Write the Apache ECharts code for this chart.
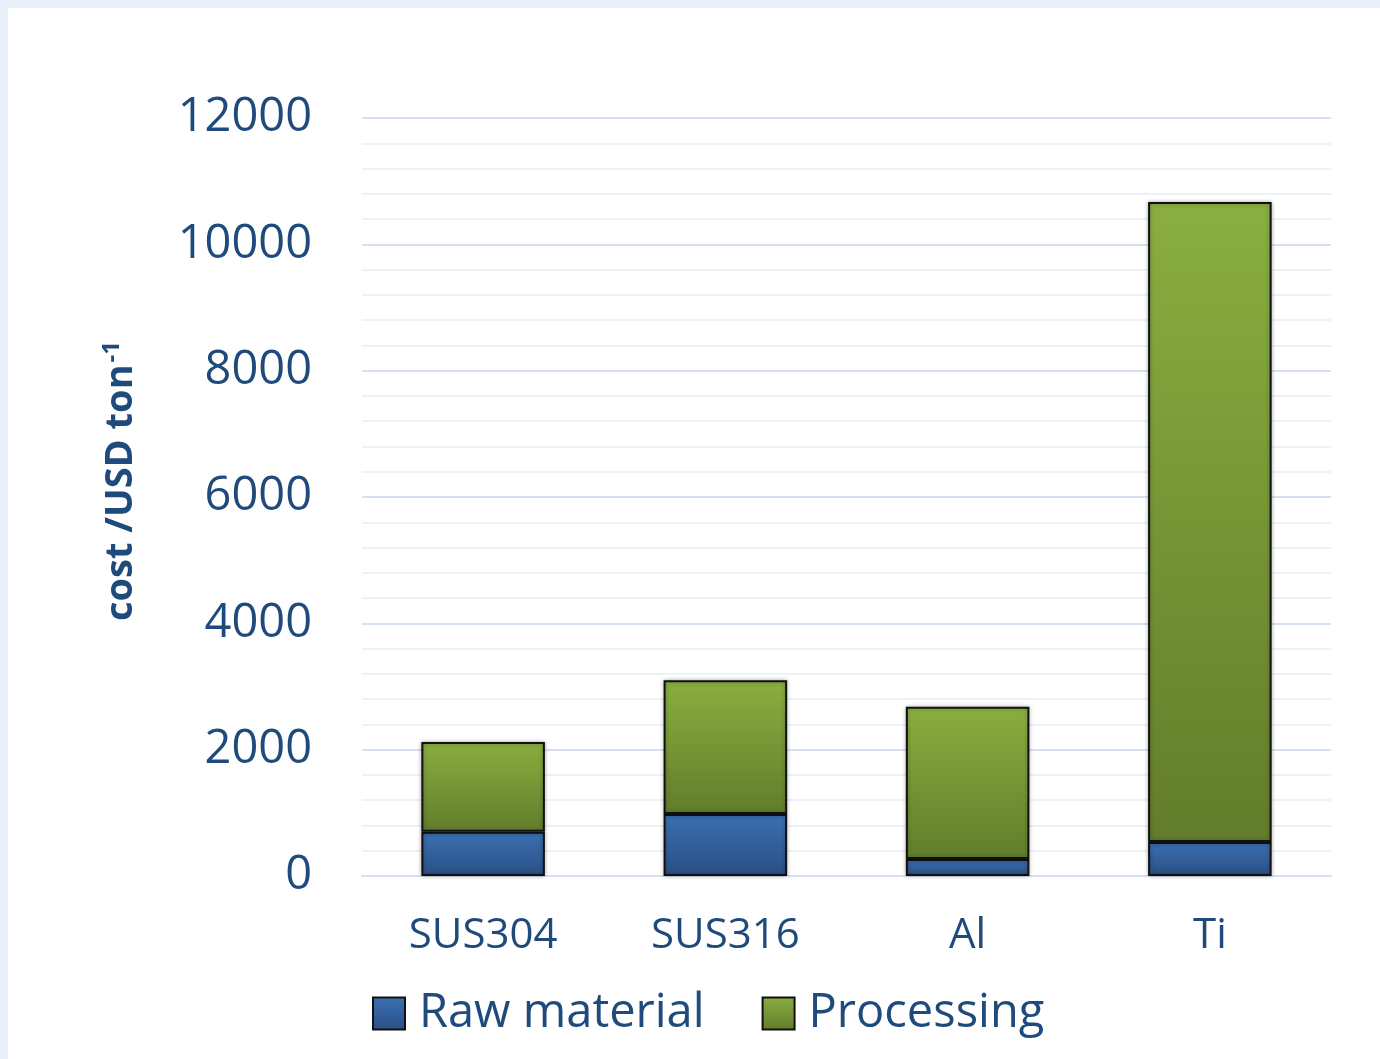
<!DOCTYPE html>
<html><head><meta charset="utf-8">
<script src="https://cdn.jsdelivr.net/npm/echarts@6/dist/echarts.min.js"></script>
<style>
html,body{margin:0;padding:0;background:#e9eff9;width:1380px;height:1059px;overflow:hidden}
#c{position:absolute;left:8px;top:8px;width:1372px;height:1051px;background:#fff}
</style></head><body>
<div id="c"></div>
<script>
const categories = ['SUS304','SUS316','Al','Ti'];
const rawMaterial = [700, 980, 270, 540];
const processing = [1420, 2120, 2410, 10130];
const yTicks = [0, 2000, 4000, 6000, 8000, 10000, 12000];

const txt = '#1f4a7c';
const font = 'Open Sans';
function grad(top, bottom){
  return new echarts.graphic.LinearGradient(0,0,0,1,[{offset:0,color:top},{offset:1,color:bottom}]);
}
const chart = echarts.init(document.getElementById('c'));
chart.setOption({
  animation:false,
  textStyle:{fontFamily:font},
  grid:{left:354, right:49, top:110, bottom:183},
  legend:{
    bottom:17, left:359, icon:'rect',
    itemWidth:32, itemHeight:32, itemGap:57,
    textStyle:{fontSize:47, color:txt, fontFamily:font, padding:[0,0,0,9]},
    data:['Raw material','Processing']
  },
  xAxis:{
    type:'category', data:categories,
    axisLine:{lineStyle:{color:'#d5e0f0', width:2}},
    axisTick:{show:false},
    axisLabel:{fontSize:42, color:txt, margin:39, fontFamily:font}
  },
  yAxis:{
    type:'value', min:yTicks[0], max:yTicks[yTicks.length-1], interval:2000,
    name:'{a|cost /USD ton}{s|-1}',
    nameLocation:'middle', nameGap:220, nameRotate:90,
    nameTextStyle:{padding:[0,0,0,32], rich:{
      a:{fontSize:38, fontWeight:'bold', color:txt, fontFamily:font},
      s:{fontSize:24, fontWeight:'bold', color:txt, fontFamily:font, verticalAlign:'top', padding:[0,0,18,2]}
    }},
    axisLine:{show:false}, axisTick:{show:false},
    axisLabel:{fontSize:47, color:txt, margin:50, fontFamily:font, formatter:v => String(v)},
    splitLine:{lineStyle:{color:'#d5e0f0', width:2}},
    minorTick:{show:false, splitNumber:5},
    minorSplitLine:{show:true, lineStyle:{color:'#eef2f8', width:2}}
  },
  series:[
    {name:'Raw material', type:'bar', stack:'t', barWidth:'51%', data:rawMaterial,
     itemStyle:{color:grad('#3a70b3','#2a4f84'), borderColor:'#111', borderWidth:2,
       shadowColor:'rgba(0,0,0,0.3)', shadowBlur:4}},
    {name:'Processing', type:'bar', stack:'t', barWidth:'51%', data:processing,
     itemStyle:{color:grad('#8aae40','#627d2b'), borderColor:'#111', borderWidth:2,
       shadowColor:'rgba(0,0,0,0.3)', shadowBlur:4}}
  ]
});
</script>
</body></html>
